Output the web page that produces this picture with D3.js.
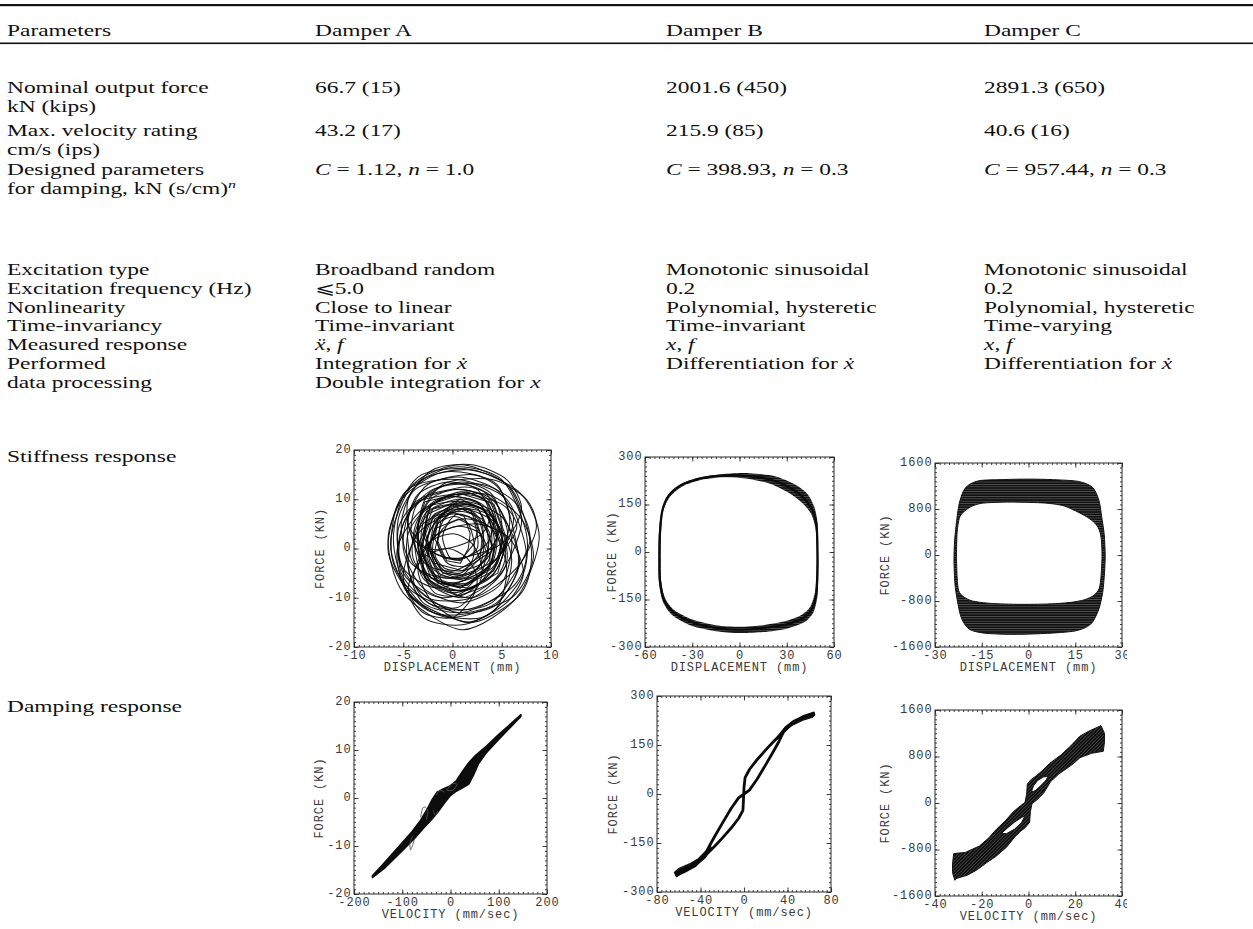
<!DOCTYPE html>
<html>
<head>
<meta charset="utf-8">
<script src="https://cdn.jsdelivr.net/npm/d3@7"></script>
<style>
  html, body { margin: 0; padding: 0; background: #fff; }
  svg { display: block; opacity: 0.999; }
</style>
</head>
<body>
<svg id="chart" width="1253" height="929"></svg>
<script>
// ---------------- Table text ----------------
const headerCells = ["Parameters", "Damper A", "Damper B", "Damper C"];

const paramLabels = [
  ["Nominal output force", "kN (kips)"],
  ["Max. velocity rating", "cm/s (ips)"],
  ["Designed parameters", "for damping, kN (s/cm)^n^"],
  ["Excitation type"],
  ["Excitation frequency (Hz)"],
  ["Nonlinearity"],
  ["Time-invariancy"],
  ["Measured response"],
  ["Performed", "data processing"]
];

const damperA = [
  ["66.7 (15)"], ["43.2 (17)"], ["*C* = 1.12, *n* = 1.0"],
  ["Broadband random"], ["\u2A7D5.0"], ["Close to linear"], ["Time-invariant"],
  ["*x\u0308*, *f*"], ["Integration for *x\u0307*", "Double integration for *x*"]
];
const damperB = [
  ["2001.6 (450)"], ["215.9 (85)"], ["*C* = 398.93, *n* = 0.3"],
  ["Monotonic sinusoidal"], ["0.2"], ["Polynomial, hysteretic"], ["Time-invariant"],
  ["*x*, *f*"], ["Differentiation for *x\u0307*"]
];
const damperC = [
  ["2891.3 (650)"], ["40.6 (16)"], ["*C* = 957.44, *n* = 0.3"],
  ["Monotonic sinusoidal"], ["0.2"], ["Polynomial, hysteretic"], ["Time-varying"],
  ["*x*, *f*"], ["Differentiation for *x\u0307*"]
];

const responseLabels = ["Stiffness response", "Damping response"];

// ---------------- Axis ticks ----------------
const stiffATicksX = [-10, -5, 0, 5, 10],      stiffATicksY = [-20, -10, 0, 10, 20];
const stiffBTicksX = [-60, -30, 0, 30, 60],    stiffBTicksY = [-300, -150, 0, 150, 300];
const stiffCTicksX = [-30, -15, 0, 15, 30],    stiffCTicksY = [-1600, -800, 0, 800, 1600];
const dampATicksX  = [-200, -100, 0, 100, 200], dampATicksY = [-20, -10, 0, 10, 20];
const dampBTicksX  = [-80, -40, 0, 40, 80],    dampBTicksY  = [-300, -150, 0, 150, 300];
const dampCTicksX  = [-40, -20, 0, 20, 40],    dampCTicksY  = [-1600, -800, 0, 800, 1600];

const xTitles = ["DISPLACEMENT (mm)", "VELOCITY (mm/sec)"];
const yTitle = "FORCE (KN)";

// ---------------- Damper A: force vs displacement cycles (mm, kN) ----------------
const stiffA_cycles = [
  [[8.8,2],[7,11],[2,16],[-3.5,14.5],[-6.5,3],[-5,-9],[1,-16.5],[6.5,-10]],
  [[8,0],[6,12],[1,17],[-4,13],[-6.3,1],[-4,-10],[2,-15],[7,-9]],
  [[7.5,3],[5,14],[0,16.5],[-5,11],[-6.5,-1],[-3,-12],[3,-14],[7,-6]],
  [[6.5,1],[4.5,13],[-1,15.5],[-5.5,9],[-6,-3],[-2,-13],[4,-12],[6.5,-5]],
  [[7.5,-1],[5.5,10],[0.5,14],[-4.5,12],[-6,2],[-4.5,-8],[1,-12.5],[6,-8]],
  [[6,2],[4,10],[0,12],[-4,9],[-5,0],[-3,-8],[1,-11],[5,-7]],
  [[5.5,0],[3.5,11],[-0.5,13],[-4.5,7],[-5.5,-2],[-2.5,-10],[2,-10],[5,-5]],
  [[5,3],[3,9],[-0.5,10.5],[-3.5,6],[-4,-2],[-1.5,-8],[2,-8],[4.5,-3]],
  [[4.5,3],[3,8],[0.5,9],[-2,6],[-3,0],[-1.5,-6],[1.5,-7],[4,-3]],
  [[3.5,4],[2.5,8],[0,8.5],[-1.5,5],[-2,-1],[-0.5,-5],[2,-5],[3.5,-1]],
  [[4,2],[3.5,7],[1.5,9],[-1,7],[-2.5,2],[-1.5,-4],[1,-6],[3.5,-3]],
  [[3,5],[2,7.5],[0.5,8],[-1,5.5],[-1.5,1],[-0.5,-3],[1.5,-3.5],[3,0]],
  [[5,5],[4,11],[1,13.5],[-2.5,11],[-3.5,3],[-2,-5],[1.5,-6],[4.5,-2]],
  [[6,-2],[4.5,5],[1,8],[-3,5],[-4.5,-3],[-3,-11],[1,-13],[5,-9]],
  [[2.5,3],[2,6],[0.5,7],[-0.5,5],[-1,2],[-0.2,-2],[1.2,-2],[2.5,0]],
  [[7,5],[5.5,13],[1.5,16],[-3,14],[-5.5,6],[-5,-5],[-1,-10],[4.5,-6]],
  [[5.5,-4],[4,4],[0,7],[-3.5,3],[-5,-6],[-3,-14],[1,-15.5],[4.5,-12]],
  [[8.5,4],[7.5,10],[4,14],[-1,13],[-3.5,5],[-2.5,-6],[2,-10],[6.5,-4]],
  [[4,0],[3,5],[1,6],[-1,4],[-1.8,-1],[-0.8,-4],[1,-4.5],[3,-3]],
  [[6.5,4],[5,9],[1,11],[-3.5,9.5],[-5.5,4],[-5,-4],[-1.5,-8],[3.5,-4]],
  [[3,-4],[2,1],[0,3],[-2.5,1],[-4,-6],[-2.5,-11],[0.5,-12],[2.5,-8]],
  [[7,8],[5.5,14],[2,17],[-2,16],[-4.5,10],[-4,2],[0,-2],[5,1]],
  [[4.2,6],[3.2,10],[0.8,11.5],[-2,9],[-2.8,4],[-1.8,-1],[1,-2],[3.5,1]],
  [[3.8,-2],[2.8,3],[0.5,4.5],[-2,2],[-3,-4],[-1.8,-9],[1,-9.5],[3.2,-6]],
  [[7.8,1],[6.5,9],[3,13],[-2,12],[-5,5],[-5.2,-5],[-1.5,-12],[4,-11]],
  [[5.8,5],[4.8,12],[2,15],[-2.5,13],[-4.5,6],[-4,-3],[-0.5,-7],[4,-4]],
  [[4.8,1],[3,8.5],[0.5,10],[-2.8,7],[-3.5,0],[-2,-7],[1.5,-8.5],[4.3,-4]],
  [[4.2,2.5],[2.8,9],[0,10.5],[-2.5,8],[-3.2,1],[-1.8,-6],[1,-7.5],[3.8,-3]],
  [[5.2,0],[3.8,7],[1,9],[-2,8],[-3.8,2],[-3,-6],[0,-9],[3.8,-6]],
  [[3.2,1],[2.6,6],[1,7.5],[-1.2,6.5],[-2.6,2],[-2,-4],[0.2,-6],[2.6,-4]],
  [[5.6,3],[4,10.5],[1.2,12.5],[-2.2,10],[-3.6,3],[-2.6,-5],[0.6,-8.5],[4.2,-5]],
  [[2.2,1],[1.6,5],[0.2,6.5],[-1.5,5],[-2.2,0.5],[-1.2,-4],[0.8,-5],[2,-2.5]],
  [[6.2,6],[4.4,12],[0.5,14.5],[-3.8,12],[-5.2,5],[-4.2,-3],[-0.5,-6],[4.5,-2]],
  [[6.8,-3],[5.2,6],[1.5,9.5],[-3,8],[-5.6,0],[-4.6,-9],[-0.5,-14],[4.5,-11]],
  [[8.2,-2],[7,6],[3.5,11],[-1.5,10],[-4.5,3],[-4,-7],[0.5,-13],[6,-10]],
  [[3.8,7],[2.5,12],[-0.5,13.5],[-3.5,11],[-4.5,5],[-2.5,0],[0.5,0.5],[3,3]],
  [[2.5,-6],[1.5,-2],[-0.5,0],[-3,-2],[-4.5,-8],[-3,-13],[0,-14],[2,-10]],
  [[7.2,-5],[5.8,2],[2.5,5],[-1.5,3],[-3.5,-4],[-2,-11],[1.5,-15],[5.5,-11]],
  [[4.6,4],[3.6,10],[0.5,12],[-3.4,9.5],[-4.2,3],[-2.8,-3],[0.2,-4.5],[3.8,0]],
  [[5.4,-1],[4.2,6],[1.8,8],[-1.8,7],[-3.2,0],[-2.4,-7],[1,-10],[4.4,-6]]
];
// tighter, more angular cycles around the centre
const stiffA_coreCycles = [
  [[4.5,2],[3.2,8],[0.8,10],[-2.5,7],[-3.2,-1],[-1.5,-7],[1.5,-8],[4,-3]],
  [[3.8,3],[2.5,8.5],[0.5,9.5],[-2,6.5],[-2.8,0],[-1.2,-5.5],[1.2,-6.5],[3.5,-2]],
  [[4.2,0],[3,6],[1,8],[-1.5,6],[-2.5,-1],[-1,-7],[1.5,-7.5],[3.8,-4]],
  [[3,2],[2.2,7],[0.3,8.5],[-1.8,6],[-2.4,0],[-1,-5],[1,-5.5],[2.8,-2]],
  [[5,1],[3.8,7.5],[1.2,9.5],[-2,8],[-3.4,1],[-2.2,-6],[0.8,-8],[4.2,-4.5]],
  [[2.6,4],[1.8,8],[0,9],[-1.4,6.5],[-1.8,2],[-0.8,-2],[0.8,-2.5],[2.2,1]],
  [[3.5,-1],[2.6,4],[0.6,6],[-1.8,4],[-2.6,-2],[-1.4,-7],[0.8,-8],[3,-5]],
  [[4.8,4],[3.6,9.5],[1,11],[-2.2,9],[-3,3],[-1.8,-3],[1,-4.5],[4,-0.5]],
  [[5.5,2],[4.2,9],[1.5,11.5],[-2.8,9.5],[-4,2],[-2.8,-6],[0.5,-9.5],[4.6,-5]],
  [[1.8,3],[1.2,6.5],[-0.2,7.5],[-1.2,5.5],[-1.5,1.5],[-0.6,-2.5],[0.8,-3],[1.6,0]]
];

// ---------------- Damper B: force vs displacement (mm, kN) ----------------
const stiffB_loop = [[49.5,0],[49,80],[46.5,130],[41,170],[33,200],[20,228],[5,240],[-10,242],
  [-25,232],[-37,212],[-45,178],[-49,130],[-50.5,60],[-50.8,-20],[-50.5,-90],[-48,-150],
  [-42,-190],[-30,-222],[-15,-240],[0,-245],[15,-240],[30,-228],[40,-210],[46,-180],[48.8,-130],[49.5,-60]];
const stiffB_outer = [[50,0],[49.6,90],[47.5,142],[43,184],[35,214],[22,240],[6,249],[-10,246],
  [-25,236],[-37,214],[-45,180],[-49.5,130],[-51.2,60],[-51.5,-20],[-51.2,-95],[-48.8,-155],
  [-43,-198],[-31,-232],[-15,-250],[0,-256],[15,-253],[30,-242],[41,-222],[47,-190],[49.6,-135],[50,-60]];
const stiffB_inner = [[49,0],[48.3,72],[45.5,120],[39.5,156],[31.5,186],[19,216],[4,232],[-10,236],
  [-24,228],[-36,208],[-44,175],[-48.5,128],[-49.8,60],[-50.1,-20],[-49.8,-88],[-47.3,-145],
  [-41.3,-184],[-29.5,-214],[-15,-231],[0,-236],[15,-231],[29.5,-218],[39,-200],[45,-172],[48,-125],[48.8,-58]];

// ---------------- Damper C: force vs displacement (mm, kN) ----------------
const stiffC_outer = [[24.6,0],[24.3,350],[23.6,620],[22.6,950],[20.5,1180],[16,1280],[8,1310],[0,1320],
  [-8,1312],[-15.5,1295],[-19,1225],[-20.8,1120],[-22.2,900],[-23,620],[-23.7,250],[-23.9,-100],
  [-23.6,-500],[-22.8,-800],[-21.5,-1100],[-19,-1290],[-14,-1360],[-5,-1380],[5,-1365],[15,-1320],
  [20,-1200],[22.5,-950],[23.8,-650],[24.4,-300]];
const stiffC_inner = [[23.6,0],[23.3,300],[22.6,450],[21.2,560],[18.8,660],[15,770],[11,860],[5,905],
  [-5,920],[-12,912],[-15.5,895],[-18.5,840],[-21,740],[-22.2,640],[-22.9,400],[-23.1,0],
  [-22.9,-400],[-22.4,-620],[-21,-720],[-18,-800],[-12,-842],[-3,-858],[6,-852],[13,-828],
  [18,-778],[21,-700],[22.7,-580],[23.3,-350]];

// ---------------- Damper A: force vs velocity (mm/s, kN) ----------------
const dampA_upperEdge = [[-162,-16.2],[-140,-13.8],[-110,-10.4],[-80,-7],[-62,-4.6],[-50,-2.6],
  [-38,-0.3],[-28,1.2],[-15,1.9],[0,2.6],[12,3.6],[25,5.6],[38,7.4],[52,8.9],[75,10.9],
  [100,13.3],[125,15.5],[146,17.4]];
const dampA_lowerEdge = [[146,17.0],[125,14.8],[100,12.2],[75,9.5],[58,7.1],[48,4.8],[38,2.9],
  [25,2.1],[12,1.4],[0,0.5],[-12,-1.0],[-25,-2.8],[-38,-4.4],[-55,-6.2],[-75,-8.5],
  [-105,-11.5],[-135,-14.5],[-162,-16.6]];
const dampA_strays = [
  [[-62,-4],[-58,-2.2],[-52,-1.9],[-47,-2.8],[-50,-4.5]],
  [[-78,-7.8],[-84,-9.4],[-83,-10.8],[-79,-10],[-74,-8.4]],
  [[-36,-2.6],[-31,-3.6],[-27,-2.8]],
  [[-8,1.6],[3,3],[14,2.8],[4,1.6],[-8,1.6]],
  [[-30,0.6],[-22,1.6],[-12,1.2]]
];

// ---------------- Damper B: force vs velocity (mm/s, kN) ----------------
const dampB_loop = [[64,242],[55,235],[45,220],[38,200],[33,180],[27,160],[20,135],[12,105],[5,75],
  [1,50],[0,20],[-0.5,-20],[-1,-50],[-5,-75],[-12,-105],[-20,-135],[-27,-160],[-33,-180],
  [-40,-200],[-50,-222],[-62,-240],[-62,-248],[-55,-238],[-45,-220],[-36,-188],[-32,-160],
  [-27,-130],[-20,-90],[-12,-45],[-5,-12],[0,0],[5,12],[12,45],[20,90],[27,130],[32,160],
  [36,188],[45,220],[55,238],[64,248]];
const dampB_endUpper = [[30,172],[38,205],[46,226],[55,238],[62,247],[65,243],[63,235],
  [54,226],[44,210],[36,190],[31,168]];
const dampB_endLower = [[-30,-168],[-36,-196],[-44,-218],[-54,-236],[-62,-253],[-64,-240],
  [-60,-228],[-50,-214],[-42,-198],[-35,-174],[-31,-155]];

// ---------------- Damper C: force vs velocity (mm/s, kN) ----------------
const dampC_outline = [[31,1330],[32.5,1200],[32.5,1050],[32,890],[27,855],[22,780],[19,670],
  [15.5,570],[13,500],[9.5,370],[6.5,170],[3.5,50],[1.5,-10],[0.8,-150],[0.5,-330],
  [-1.3,-420],[-3.5,-490],[-6,-590],[-9.4,-760],[-14,-920],[-18,-1030],[-22,-1150],
  [-26,-1240],[-31,-1300],[-31.5,-1330],[-32.5,-1200],[-32.5,-1050],[-32,-870],[-27,-850],
  [-21,-740],[-17,-600],[-13.7,-450],[-10,-310],[-6.5,-150],[-3.5,-50],[-1.5,10],[-0.8,150],
  [-0.5,330],[1.3,410],[3.4,470],[6,560],[9,680],[14,830],[18,980],[22,1150],[26,1240],[31,1330]];
const dampC_lobeUpper = [[1.2,190],[2.2,300],[4,390],[6.5,450],[8.5,462],[7.5,390],[5,290],[2.8,210]];
const dampC_lobeLower = [[-1.5,-220],[-3,-250],[-6,-330],[-9,-430],[-11.5,-520],[-9.5,-530],[-6,-450],[-3,-340]];

// ---------------- Layout ----------------
const W = 1253, H = 929;
const SERIF = "'Liberation Serif','Times New Roman',Times,serif";
const MONO = "'Liberation Mono','Courier New',monospace";
const TXT_SX = 1.42, TXT_FS = 16.5;
const colX = [7, 315, 666, 984];
const rowBase = [93, 135.5, 174.5, 275, 293.8, 312.6, 331.4, 350.2, 369];
const lineStep = 19.4;
const MONO_FS = 12, MONO_LS = 0.9;

const svg = d3.select("#chart");
svg.append("rect").attr("width", W).attr("height", H).attr("fill", "#fff");

// table rules
svg.append("rect").attr("x", 0).attr("y", 4).attr("width", W).attr("height", 2.2).attr("fill", "#111");
svg.append("rect").attr("x", 0).attr("y", 42.5).attr("width", W).attr("height", 1.6).attr("fill", "#111");

function richLine(str, x, y) {
  const t = svg.append("text")
    .attr("transform", `translate(${x},${y}) scale(${TXT_SX},1)`)
    .attr("font-family", SERIF).attr("font-size", TXT_FS).attr("fill", "#111");
  str.split(/(\*[^*]+\*|\^[^^]+\^)/).filter(s => s.length).forEach(s => {
    if (s[0] === "*") t.append("tspan").attr("font-style", "italic").text(s.slice(1, -1));
    else if (s[0] === "^") t.append("tspan").attr("font-style", "italic")
      .attr("font-size", TXT_FS * 0.68).attr("dy", -6).text(s.slice(1, -1));
    else t.append("tspan").text(s);
  });
}

headerCells.forEach((h, i) => richLine(h, colX[i], 35.5));
[paramLabels, damperA, damperB, damperC].forEach((col, ci) => {
  col.forEach((cell, ri) => cell.forEach((ln, li) => richLine(ln, colX[ci], rowBase[ri] + li * lineStep)));
});
richLine(responseLabels[0], colX[0], 462);
richLine(responseLabels[1], colX[0], 712);

// defs: clip paths and textures for dense bands
const defs = svg.append("defs");
const hPat = defs.append("pattern").attr("id", "hatchH").attr("patternUnits", "userSpaceOnUse")
  .attr("width", 6).attr("height", 2.4);
hPat.append("rect").attr("width", 6).attr("height", 2.4).attr("fill", "#555");
hPat.append("rect").attr("width", 6).attr("height", 1.6).attr("fill", "#101010");
const dPat = defs.append("pattern").attr("id", "hatchD").attr("patternUnits", "userSpaceOnUse")
  .attr("width", 6).attr("height", 2.4).attr("patternTransform", "rotate(-45)");
dPat.append("rect").attr("width", 6).attr("height", 2.4).attr("fill", "#4a4a4a");
dPat.append("rect").attr("width", 6).attr("height", 1.7).attr("fill", "#0e0e0e");

const panelLayout = {
  stiffA: { x0: 354, x1: 551, y0: 450, y1: 647, yTitleOff: 34, xMinor: 0.5, yMinor: 1 },
  stiffB: { x0: 645, x1: 834, y0: 457, y1: 647, yTitleOff: 33, xMinor: 3, yMinor: 15 },
  stiffC: { x0: 935, x1: 1122, y0: 463, y1: 647, yTitleOff: 50, xMinor: 1.5, yMinor: 80, clipRight: 1127 },
  dampA:  { x0: 354, x1: 547, y0: 702, y1: 894, yTitleOff: 35, xMinor: 10, yMinor: 1 },
  dampB:  { x0: 657, x1: 831, y0: 696, y1: 892, yTitleOff: 44, xMinor: 4, yMinor: 15 },
  dampC:  { x0: 935, x1: 1122, y0: 710, y1: 896, yTitleOff: 50, xMinor: 2, yMinor: 80, clipRight: 1127 }
};

function monoText(sel) {
  return sel.attr("font-family", MONO).attr("font-size", MONO_FS)
    .attr("letter-spacing", MONO_LS).attr("fill", "#3a3a3a");
}

let clipId = 0;
function makePanel(lay, ticksX, ticksY, xTitle, drawMarks) {
  const x = d3.scaleLinear().domain([ticksX[0], ticksX[ticksX.length - 1]]).range([lay.x0, lay.x1]);
  const y = d3.scaleLinear().domain([ticksY[0], ticksY[ticksY.length - 1]]).range([lay.y1, lay.y0]);
  const id = "clip" + (clipId++);
  defs.append("clipPath").attr("id", id).append("rect")
    .attr("x", lay.x0).attr("y", lay.y0).attr("width", lay.x1 - lay.x0).attr("height", lay.y1 - lay.y0);
  const g = svg.append("g");
  const marks = g.append("g").attr("clip-path", `url(#${id})`);
  drawMarks(marks, x, y);

  const axes = g.append("g");
  if (lay.clipRight) {
    const tid = "clip" + (clipId++);
    defs.append("clipPath").attr("id", tid).append("rect")
      .attr("x", lay.x0 - 120).attr("y", lay.y0 - 20).attr("width", lay.clipRight - lay.x0 + 120).attr("height", lay.y1 - lay.y0 + 60);
    axes.attr("clip-path", `url(#${tid})`);
  }
  const fmt = d => String(d);
  const minorX = d3.range(x.domain()[0], x.domain()[1] + 1e-9, lay.xMinor);
  const minorY = d3.range(y.domain()[0], y.domain()[1] + 1e-9, lay.yMinor);

  // minor ticks on all four sides
  axes.append("g").attr("transform", `translate(0,${lay.y1})`)
    .call(d3.axisBottom(x).tickValues(minorX).tickSize(-2).tickFormat(""));
  axes.append("g").attr("transform", `translate(0,${lay.y0})`)
    .call(d3.axisTop(x).tickValues(minorX).tickSize(-2).tickFormat(""));
  axes.append("g").attr("transform", `translate(${lay.x0},0)`)
    .call(d3.axisLeft(y).tickValues(minorY).tickSize(-2).tickFormat(""));
  axes.append("g").attr("transform", `translate(${lay.x1},0)`)
    .call(d3.axisRight(y).tickValues(minorY).tickSize(-2).tickFormat(""));
  // major ticks with labels
  axes.append("g").attr("class", "lab").attr("transform", `translate(0,${lay.y1})`)
    .call(d3.axisBottom(x).tickValues(ticksX).tickSize(-4.5).tickSizeOuter(0).tickPadding(3).tickFormat(fmt));
  axes.append("g").attr("transform", `translate(0,${lay.y0})`)
    .call(d3.axisTop(x).tickValues(ticksX).tickSize(-4.5).tickSizeOuter(0).tickFormat(""));
  axes.append("g").attr("class", "lab laby").attr("transform", `translate(${lay.x0},0)`)
    .call(d3.axisLeft(y).tickValues(ticksY).tickSize(-4.5).tickSizeOuter(0).tickPadding(2.5).tickFormat(fmt));
  axes.append("g").attr("transform", `translate(${lay.x1},0)`)
    .call(d3.axisRight(y).tickValues(ticksY).tickSize(-4.5).tickSizeOuter(0).tickFormat(""));

  axes.selectAll(".domain").remove();
  axes.selectAll(".tick line").attr("stroke", "#2a2a2a").attr("stroke-width", 0.9);
  monoText(axes.selectAll(".lab text"));
  axes.selectAll(".laby text").attr("dy", "0.2em");

  // frame
  g.append("rect").attr("x", lay.x0).attr("y", lay.y0)
    .attr("width", lay.x1 - lay.x0).attr("height", lay.y1 - lay.y0)
    .attr("fill", "none").attr("stroke", "#2a2a2a").attr("stroke-width", 1);

  // titles
  monoText(axes.append("text")).attr("x", (lay.x0 + lay.x1) / 2).attr("y", lay.y1 + 23.5)
    .attr("text-anchor", "middle").text(xTitle);
  monoText(g.append("text")).attr("transform", `translate(${lay.x0 - lay.yTitleOff},${(lay.y0 + lay.y1) / 2}) rotate(-90)`)
    .attr("text-anchor", "middle").attr("dy", "0.35em").text(yTitle);
}

const closedCurve = (x, y) => d3.line().x(d => x(d[0])).y(d => y(d[1])).curve(d3.curveCardinalClosed.tension(0.2));
const openCurve = (x, y) => d3.line().x(d => x(d[0])).y(d => y(d[1])).curve(d3.curveCardinal.tension(0.3));
const linearClosed = (x, y) => d3.line().x(d => x(d[0])).y(d => y(d[1])).curve(d3.curveLinearClosed);

// Damper A stiffness: broadband random cycles
makePanel(panelLayout.stiffA, stiffATicksX, stiffATicksY, xTitles[0], (g, x, y) => {
  g.selectAll("path.cyc").data(stiffA_cycles).join("path").attr("class", "cyc")
    .attr("d", closedCurve(x, y)).attr("fill", "none")
    .attr("stroke", "#050505").attr("stroke-width", 1.05).attr("stroke-opacity", 0.9);
  g.selectAll("path.core").data(stiffA_coreCycles).join("path").attr("class", "core")
    .attr("d", linearClosed(x, y)).attr("fill", "none").attr("stroke-linejoin", "round")
    .attr("stroke", "#050505").attr("stroke-width", 1.05).attr("stroke-opacity", 0.9);
});

// Damper B stiffness: rounded-rectangle hysteresis
makePanel(panelLayout.stiffB, stiffBTicksX, stiffBTicksY, xTitles[0], (g, x, y) => {
  const cc = closedCurve(x, y);
  g.append("path").attr("d", cc(stiffB_outer) + cc(stiffB_inner))
    .attr("fill", "url(#hatchH)").attr("fill-rule", "evenodd");
  g.append("path").attr("d", cc(stiffB_loop)).attr("fill", "none")
    .attr("stroke", "#0a0a0a").attr("stroke-width", 2.2);
});

// Damper C stiffness: drifting band of cycles
makePanel(panelLayout.stiffC, stiffCTicksX, stiffCTicksY, xTitles[0], (g, x, y) => {
  const cc = closedCurve(x, y);
  g.append("path").attr("d", cc(stiffC_outer) + cc(stiffC_inner))
    .attr("fill", "url(#hatchH)").attr("fill-rule", "evenodd");
  g.selectAll("path.edge").data([stiffC_outer, stiffC_inner]).join("path").attr("class", "edge")
    .attr("d", cc).attr("fill", "none").attr("stroke", "#111").attr("stroke-width", 1);
});

// Damper A damping: near-linear force-velocity band
makePanel(panelLayout.dampA, dampATicksX, dampATicksY, xTitles[1], (g, x, y) => {
  g.append("path").attr("d", linearClosed(x, y)(dampA_upperEdge.concat(dampA_lowerEdge)))
    .attr("fill", "#0c0c0c").attr("stroke", "#0c0c0c").attr("stroke-width", 1.4).attr("stroke-linejoin", "round");
  g.selectAll("path.stray").data(dampA_strays).join("path").attr("class", "stray")
    .attr("d", openCurve(x, y)).attr("fill", "none").attr("stroke", "#555").attr("stroke-width", 0.9);
});

// Damper B damping: pinched hysteresis
makePanel(panelLayout.dampB, dampBTicksX, dampBTicksY, xTitles[1], (g, x, y) => {
  const lc = linearClosed(x, y);
  g.selectAll("path.end").data([dampB_endUpper, dampB_endLower]).join("path").attr("class", "end")
    .attr("d", lc).attr("fill", "url(#hatchD)").attr("stroke", "#111").attr("stroke-width", 1.2);
  g.append("path").attr("d", lc(dampB_loop)).attr("fill", "none")
    .attr("stroke", "#0a0a0a").attr("stroke-width", 2.8).attr("stroke-linejoin", "round");
});

// Damper C damping: spreading pinched band
makePanel(panelLayout.dampC, dampCTicksX, dampCTicksY, xTitles[1], (g, x, y) => {
  const lc = linearClosed(x, y);
  g.append("path").attr("d", lc(dampC_outline) + lc(dampC_lobeUpper) + lc(dampC_lobeLower))
    .attr("fill", "url(#hatchD)").attr("fill-rule", "evenodd")
    .attr("stroke", "#111").attr("stroke-width", 1).attr("stroke-linejoin", "round");
});
</script>
</body>
</html>
